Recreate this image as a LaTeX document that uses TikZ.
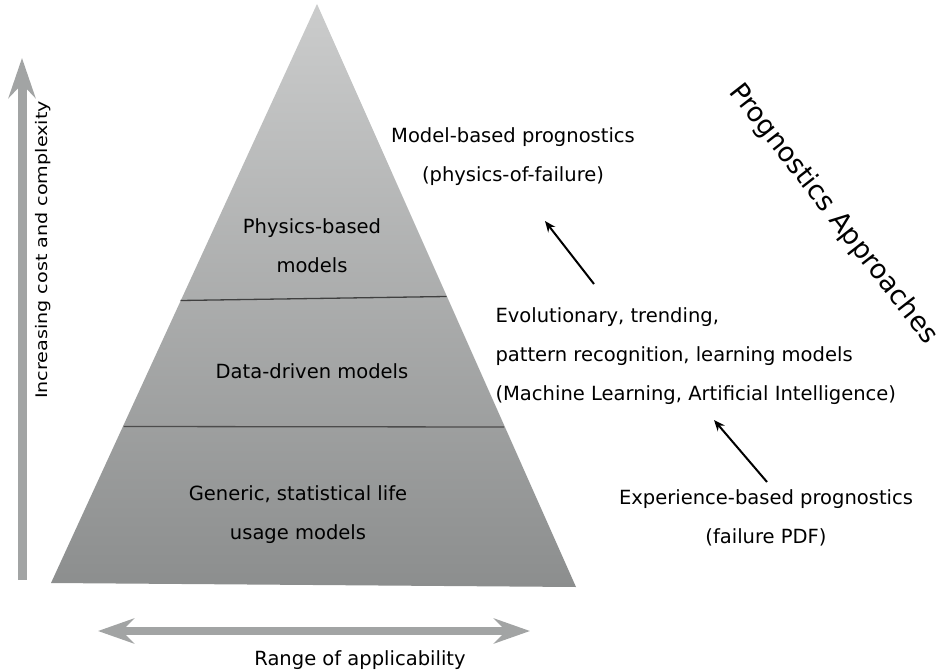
\documentclass[tikz,border=0pt]{standalone}
\usepackage{fontspec}
\setmainfont{DejaVu Sans}
\usetikzlibrary{arrows.meta}

\definecolor{pyrtop}{HTML}{CBCCCC}
\definecolor{pyrbot}{HTML}{8C8E8E}
\definecolor{axisgray}{HTML}{A2A4A4}

\begin{document}
\begin{tikzpicture}[x=1bp, y=-1bp,
  txt/.style={font=\fontsize{19.6}{39}\selectfont, align=center},
  axisarrow/.style={draw=axisgray, line width=9bp,
    -{Stealth[length=40bp, width=27bp, inset=14bp]}},
  pointer/.style={draw=black, line width=2bp, -{Stealth[length=11bp, width=9bp]}},
]
  \useasboundingbox (0,0) rectangle (944,672);
  \coordinate (T) at (317,4);
  \coordinate (L) at (51,583);
  \coordinate (R) at (576,587);
  \shade[top color=pyrtop, bottom color=pyrbot] (T) -- (R) -- (L) -- cycle;
  % Trennlinien
  \draw[line width=1.3bp, black!75] (180.5,300.5) -- (446.5,296.5);
  \draw[line width=1.3bp, black!70] (123.5,426.5) -- (504,427);

  \node[txt] (phys) at (312,246) {Physics-based\\models};
  \node[txt] (data) at (312,371) {Data-driven models};
  \node[txt] (gen)  at (298,515) {Generic, statistical life\\usage models};

  \node[txt] (model) at (513,157) {Model-based prognostics\\(physics-of-failure)};
  \node[txt, align=left, anchor=west] (evol) at (492,356)
    {Evolutionary, trending,\\pattern recognition, learning models\\(Machine Learning, Artificial Intelligence)};
  \node[txt] (exp) at (766,518) {Experience-based prognostics\\(failure PDF)};
  \node[font=\fontsize{27}{30}\selectfont, rotate=-52] (title) at (833,214) {Prognostics Approaches};

  \coordinate (p1) at (594,284);
  \coordinate (q1) at (545,221);
  \coordinate (p2) at (767,482);
  \coordinate (q2) at (714,420);
  \draw[pointer] (p1) -- (q1);
  \draw[pointer] (p2) -- (q2);

  \coordinate (up0) at (22,580);
  \coordinate (up1) at (22,58);
  \draw[axisarrow] (up0) -- (up1);
  \node[font=\fontsize{16}{18}\selectfont, rotate=90, xscale=1.2] (cost) at (43,250) {Increasing cost and complexity};

  \coordinate (w) at (98,631);
  \coordinate (e) at (530,631);
  \draw[axisarrow, line width=8bp, {Stealth[length=36bp, width=25bp, inset=12bp]}-{Stealth[length=36bp, width=25bp, inset=12bp]}] (w) -- (e);
  \node[txt] (range) at (360,660) {Range of applicability};
\end{tikzpicture}
\end{document}
